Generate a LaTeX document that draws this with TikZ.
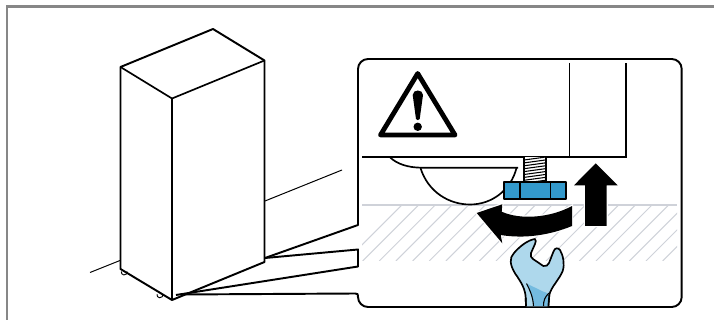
\documentclass[tikz,border=0pt]{standalone}
\definecolor{framegray}{HTML}{878787}
\definecolor{hatchgray}{HTML}{CFD2D9}
\definecolor{nutblue}{HTML}{3399CC}
\definecolor{wrenchlight}{HTML}{AED8EC}
\definecolor{wrenchdark}{HTML}{74BBE0}
\tikzset{
  px/.style={x=0.75pt,y=-0.75pt},
  outl/.style={line width=1.25pt,line join=round,black},
  thick line/.style={line width=1.45pt,line join=round,black},
  thin line/.style={line width=0.75pt,black},
  hatch/.style={line width=0.75pt,hatchgray},
  halo/.style={fill=black,preaction={draw=white,line width=1.8pt}},
}
\begin{document}
\begin{tikzpicture}[px]
\useasboundingbox (0,0) rectangle (714,320);
\fill[white] (0,0) rectangle (714,320);
% frame
\fill[framegray] (6,5) rectangle (714,7.8);
\fill[framegray] (6,5) rectangle (8.3,320);
% cabinet
\draw[thick line] (120.5,67) -- (213,29) -- (264.5,60.5) -- (264.5,262) -- (172,300) -- (120.5,269) -- cycle;
\draw[outl] (120.5,67) -- (172,98.5) -- (264.5,60.5);
\draw[outl] (172,98.5) -- (172,300);
\draw[thin line] (90,272.5) -- (120,260.5);
\draw[thin line] (265,201) -- (342,170);
\draw[line width=0.7pt] (121.3,271.5) arc[start angle=190,end angle=-10,radius=3];
\draw[line width=0.7pt] (157,294.3) arc[start angle=190,end angle=-10,radius=3];
% callout
\draw[thick line] (265,258) -- (358,225) -- (358,69) arc[start angle=180,end angle=270,radius=10]
  -- (671.7,59) arc[start angle=270,end angle=360,radius=10]
  -- (681.7,297) arc[start angle=0,end angle=90,radius=10]
  -- (368,307) arc[start angle=90,end angle=180,radius=10]
  -- (358,297) .. controls (358,294) and (358,293.5) .. (355,293.5) -- (180,294.5);
\draw[thick line] (265,258) -- (358,249.5) -- (358,266.5) -- (176,295);
% floor hatching
\begin{scope}
\clip (362,205) rectangle (677,261);
\foreach \k in {-1,...,19}{
  \draw[hatch] ({362.6+16.67*\k},261) -- ({362.6+16.67*\k+56},205);
}
\end{scope}
\draw[line width=1.3pt,hatchgray] (362,205) -- (677,205);
% appliance body
\draw[line width=0.9pt] (569.3,63) -- (569.3,157.3);
\draw[line width=1.4pt,black,line join=miter] (362,157.3) -- (625.7,157.3) -- (625.7,63);
% warning triangle
\draw[line width=3.6pt,line join=round] (417.7,73.5) -- (455,135) -- (380.5,135) -- cycle;
\fill (412.7,95) .. controls (412.7,89) and (423,89) .. (423,95)
  -- (419.7,119) .. controls (419.3,120.5) and (416.3,120.5) .. (416,119) -- cycle;
\fill (417.7,126.8) circle[radius=4.2];
% door arcs
\draw[outl] (390,157.3) .. controls (397,164) and (408,167.7) .. (422,167.7) -- (518,167.7);
\draw[outl] (420.5,168) .. controls (428,192) and (449,204.5) .. (470,204.5)
  .. controls (492,204.5) and (511,190) .. (516.5,168);
% threaded stud
\fill[white] (524.3,157.3) rectangle (545.7,182);
\begin{scope}
\clip (524.3,157.3) rectangle (545.7,182);
\foreach \k in {0,...,8}{
  \draw[line width=0.8pt] (524,{160+\k*2.9}) -- (546,{157+\k*2.9});
}
\end{scope}
\draw[outl] (524.3,157.3) -- (524.3,182) (545.7,157.3) -- (545.7,182);
% nut
\draw[outl,fill=nutblue] (504.3,182) rectangle (565.7,198.7);
\draw[line width=0.8pt] (520,182) -- (520,198.7) (550.7,182) -- (550.7,198.7);
% arrows
\path[halo] (595.7,163.3) -- (617.7,185.3) -- (606.7,185.3) -- (606.7,226) -- (585,226) -- (585,185.3) -- (574,185.3) -- cycle;
\path[halo] (476.7,213) -- (502.3,204.3) -- (501.7,211.7)
  .. controls (520,220) and (550,218) .. (572,206) -- (572,226)
  .. controls (550,235) and (525,239) .. (500.7,235) -- (502.3,243.3) -- cycle;
% wrench
\draw[outl,fill=wrenchlight] (526,306.5) -- (525.7,298) .. controls (525.5,289) and (521,282) .. (515,273.3)
  .. controls (510,265) and (509,258) .. (514,253) .. controls (520,246) and (528,240) .. (535,239)
  .. controls (536,240) and (536,242) .. (535,244) -- (531,253) .. controls (530.5,256) and (531,258) .. (533,259)
  -- (543.3,266) .. controls (546,266.5) and (548,265.5) .. (549,263) -- (553.5,251.5)
  .. controls (555,247.5) and (558,247.5) .. (560,250) .. controls (563,255) and (565,264) .. (562.7,271)
  .. controls (559,280) and (551,287) .. (549.3,295) -- (548.3,306.5);
\fill[wrenchdark] (526.5,283.5) -- (543,291.5) .. controls (548,293) and (549,294) .. (548.8,297) -- (548,306) -- (533.5,306) -- (532,296) -- cycle;
\draw[line width=0.8pt] (526.5,283.5) .. controls (530,290) and (533,297) .. (533.5,306);
\draw[line width=0.8pt] (543.5,306) .. controls (543.5,300) and (545,297) .. (549,293);
\draw[outl] (525.7,298) -- (526,306.5) (549.3,295) -- (548.3,306.5);
\end{tikzpicture}
\end{document}
